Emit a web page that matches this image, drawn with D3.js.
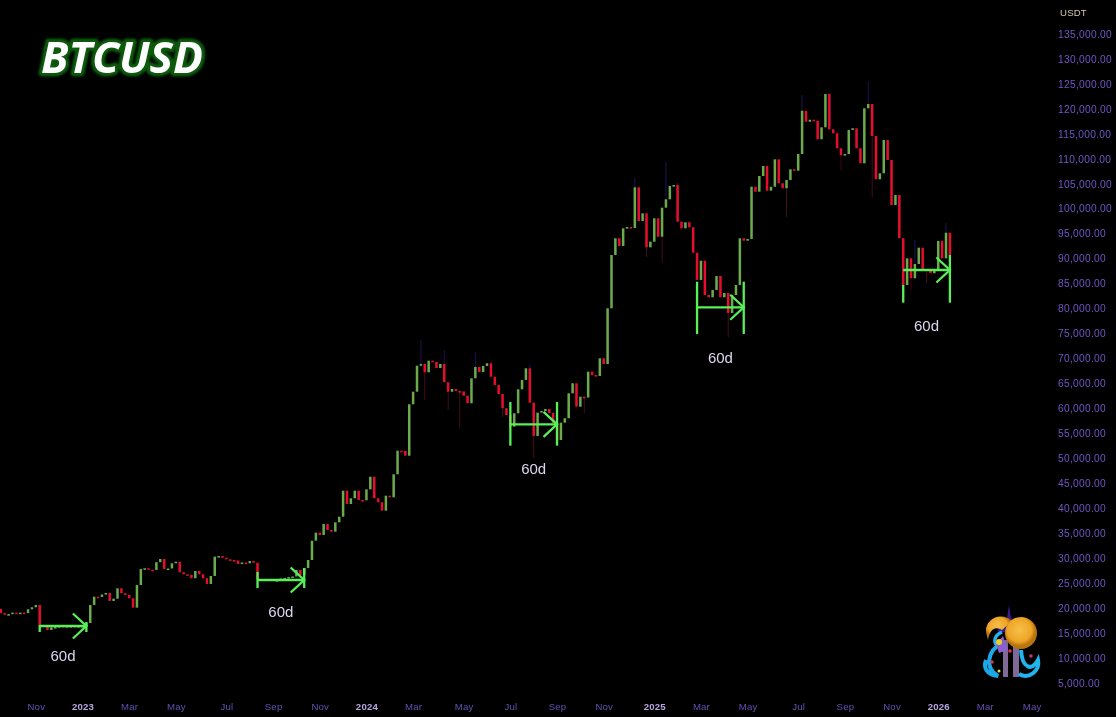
<!DOCTYPE html>
<html><head><meta charset="utf-8">
<script src="https://cdn.jsdelivr.net/npm/d3@7/dist/d3.min.js"></script>
<style>html,body{margin:0;padding:0;background:#000;overflow:hidden}svg{display:block}</style>
</head><body><svg id="c" width="1116" height="717"></svg>
<script>
// five-day candles; the first candle is index -10, each opens at the previous close
const firstIndex = -10;
const firstOpen = 19830;
const closes = [
19000,18800,18800,19100,19000,19100,19000,19770,20170,20630,
16620,16220,15620,16160,16220,16420,16220,16420,16420,16220,16420,16420,17020,20630,22290,22230,22730,23030,21430,21890,
23970,22970,22630,21970,20090,24630,27840,27980,27700,27640,29200,29840,27840,27940,28980,29300,27180,26780,26640,25980,
27440,26780,25980,24840,26440,30300,30440,30100,29780,29640,29540,28840,29140,28980,29440,29100,25780,25640,25840,25740,
25640,25640,25940,26040,26240,26340,27640,26640,28040,29640,33510,35110,34650,36850,35650,35310,37190,38310,43520,40860,
42000,43520,41660,41600,43800,46330,42000,41200,39520,42520,42200,46810,51540,51480,50530,60830,63350,68560,68900,67240,
69560,69300,68100,68900,65240,63350,63890,63490,63400,62550,61030,66040,68300,67300,68500,69040,66360,64690,62890,60030,
58680,56340,59030,63830,65700,68040,61150,54480,59150,59490,59890,59090,57080,53680,57140,58030,63030,65040,60350,62350,
62190,67360,66700,66500,70040,68900,80060,90730,94080,92540,96080,96340,96140,104290,97540,99080,92270,93400,98080,94400,
100210,101890,104550,104750,97400,96080,97280,96280,91190,85730,89590,82720,82260,83720,86530,82260,83120,79120,82720,84720,
94080,93600,93940,104410,103410,106560,108560,103610,104410,109900,105100,104100,105760,107900,107620,110960,119640,117430,117830,117640,
113910,116310,122980,115910,115110,112100,110770,110960,115770,116110,112100,109100,120120,120980,114570,105900,107100,113770,109760,100750,
102750,94080,84720,90070,86070,88930,92200,87730,87930,87070,87790,93540,90070,95200,90730
];
// faint wicks that are visible beyond the bodies
const wickIndex = [98,104,112,126,153,161,164,196,213,225,233];
const wickHigh  = [73710,71700,71300,68700,106160,109360,105160,122780,125380,93740,97140];
const lowWickIndex = [99,105,108,119,127,140,156,160,177,192,206,214,224,228];
const wickLow      = [61690,59690,56080,58280,50070,59080,90330,89130,74310,98340,107760,102350,83720,85130];
// 60-day ruler drawings
const toolStart     = [0,56,121,169,222];
const toolEnd       = [12,68,133,181,234];
const toolLeftHigh  = [16620,27240,61290,85380,84720];
const toolRightHigh = [17220,28040,61290,85380,90730];
const toolLow       = [15220,24030,52540,74910,81180];
const toolMid       = [16420,25630,56820,80260,87730];
const toolLabelPrice= [10210,19030,47670,69900,76310];
const toolLabel = "60d";
const priceTicks = d3.range(5000,135001,5000);
const timeTickIndex = [-1,11,23,35,48,60,72,84,96,109,121,133,145,158,170,182,195,207,219,231,243,255];
const timeTickLabel = ["Nov","2023","Mar","May","Jul","Sep","Nov","2024","Mar","May","Jul","Sep","Nov","2025","Mar","May","Jul","Sep","Nov","2026","Mar","May"];
const unit = "USDT", title = "BTCUSD";

const GREEN="#6cab4c", RED="#e6112e", TOOL="#58f058";
const svg=d3.select("#c");
const x=d3.scaleLinear().domain([0,234]).range([39.7,949.9]);
const y=d3.scaleLinear().domain([5000,135000]).range([683,34]);
const defs=svg.append("defs");
defs.append("filter").attr("id","soft").append("feGaussianBlur").attr("stdDeviation",0.4);
defs.append("filter").attr("id","soft2").append("feGaussianBlur").attr("stdDeviation",0.35);
const gl=defs.append("filter").attr("id","glow").attr("x","-10%").attr("y","-30%").attr("width","120%").attr("height","160%");
gl.append("feGaussianBlur").attr("stdDeviation",1.2);
const rg=defs.append("radialGradient").attr("id","cap").attr("cx","45%").attr("cy","40%");
rg.append("stop").attr("offset","0%").attr("stop-color","#f7c04a");
rg.append("stop").attr("offset","75%").attr("stop-color","#eea526");
rg.append("stop").attr("offset","100%").attr("stop-color","#b87410");

svg.append("rect").attr("width",1116).attr("height",717).attr("fill","#000");

// candles
const candles=closes.map((c,k)=>({i:firstIndex+k,o:k?closes[k-1]:firstOpen,c}));
const chart=svg.append("g").attr("filter","url(#soft)");
chart.append("g").selectAll("line.h").data(wickIndex).join("line")
  .attr("x1",d=>x(d)).attr("x2",d=>x(d))
  .attr("y1",(d,k)=>y(wickHigh[k])).attr("y2",d=>y(Math.max(closes[d-firstIndex],closes[d-firstIndex-1])))
  .attr("stroke","#1c1458").attr("stroke-width",1);
chart.append("g").selectAll("line.l").data(lowWickIndex).join("line")
  .attr("x1",d=>x(d)).attr("x2",d=>x(d))
  .attr("y1",(d,k)=>y(wickLow[k])).attr("y2",d=>y(Math.min(closes[d-firstIndex],closes[d-firstIndex-1])))
  .attr("stroke","#440d1c").attr("stroke-width",1);
chart.append("g").selectAll("rect").data(candles).join("rect")
  .attr("x",d=>x(d.i)-1.25).attr("width",2.5)
  .attr("y",d=>Math.min(y(d.o),y(d.c)))
  .attr("height",d=>Math.max(1.6,Math.abs(y(d.o)-y(d.c))))
  .attr("fill",d=>d.c>=d.o?GREEN:RED);

// rulers
const tools=chart.append("g").attr("stroke",TOOL).attr("stroke-width",2.3).attr("fill","none")
  .selectAll("g").data(toolStart).join("g");
tools.append("line").attr("x1",d=>x(d)).attr("x2",d=>x(d))
  .attr("y1",(d,k)=>y(toolLeftHigh[k])).attr("y2",(d,k)=>y(toolLow[k]));
tools.append("line").attr("x1",(d,k)=>x(toolEnd[k])).attr("x2",(d,k)=>x(toolEnd[k]))
  .attr("y1",(d,k)=>y(toolRightHigh[k])).attr("y2",(d,k)=>y(toolLow[k]));
tools.append("line").attr("x1",d=>x(d)).attr("x2",(d,k)=>x(toolEnd[k]))
  .attr("y1",(d,k)=>y(toolMid[k])).attr("y2",(d,k)=>y(toolMid[k]));
tools.append("path").attr("d",(d,k)=>{
  const ex=x(toolEnd[k]),my=y(toolMid[k]);
  return d3.line()([[ex-13.5,my-12.5],[ex,my],[ex-13.5,my+12.5]]);
});
svg.append("g").attr("filter","url(#soft2)").selectAll("text").data(toolStart).join("text")
  .attr("x",(d,k)=>x((d+toolEnd[k])/2)).attr("y",(d,k)=>y(toolLabelPrice[k]))
  .attr("text-anchor","middle").attr("dominant-baseline","middle")
  .attr("font-family","Liberation Sans, Arial, sans-serif").attr("font-size",15)
  .attr("fill","#ddd6ee").text(toolLabel);

// axes
const yAxis=d3.axisRight(y).tickValues(priceTicks).tickSize(0).tickPadding(0).tickFormat(d3.format(",.2f"));
const ya=svg.append("g").attr("transform","translate(1058,0)").attr("filter","url(#soft2)").call(yAxis);
ya.select(".domain").remove();
ya.selectAll("text").attr("font-family","Liberation Sans, Arial, sans-serif").attr("font-size",10.2)
  .attr("letter-spacing",0.3).attr("fill","#7156c6");
const xAxis=d3.axisBottom(x).tickValues(timeTickIndex).tickSize(0).tickPadding(0).tickFormat((d,k)=>timeTickLabel[k]);
const xa=svg.append("g").attr("transform","translate(0,703)").attr("filter","url(#soft2)").call(xAxis);
xa.select(".domain").remove();
xa.selectAll("text").attr("font-family","Liberation Sans, Arial, sans-serif").attr("font-size",9.6)
  .attr("letter-spacing",0.2)
  .attr("fill",(d,k)=>/^\d/.test(timeTickLabel[k])?"#b9a8e0":"#654fb4")
  .attr("font-weight",(d,k)=>/^\d/.test(timeTickLabel[k])?"700":"400");
svg.append("text").attr("x",1060).attr("y",16).attr("font-family","Liberation Sans, Arial, sans-serif")
  .attr("font-size",9.6).attr("letter-spacing",0.2).attr("fill","#d2c4b0").attr("filter","url(#soft2)").text(unit);

// title
const tAttrs=s=>s.attr("x",41).attr("y",73).attr("font-family","Open Sans, Noto Sans, sans-serif")
  .attr("font-size",43).attr("font-weight",700).attr("font-style","italic")
  .attr("textLength",162).attr("lengthAdjust","spacingAndGlyphs");
svg.append("text").call(tAttrs).attr("fill","#0a5a0a").attr("stroke","#0a5a0a").attr("stroke-width",7)
  .attr("stroke-linejoin","round").attr("filter","url(#glow)").text(title);
svg.append("text").call(tAttrs).attr("fill","#fff").attr("filter","url(#soft2)").text(title);

// logo
const logo=svg.append("g").attr("filter","url(#soft2)");
logo.append("path").attr("d","M995 616 L1001 626 L1007 618 L1009 605 L1011 618 L1017 626 L1023 616 L1021 632 L998 632Z").attr("fill","#3a1c90");
logo.append("rect").attr("x",1003).attr("y",640).attr("width",5).attr("height",37).attr("fill","#7d6a96");
logo.append("rect").attr("x",1013).attr("y",640).attr("width",6).attr("height",37).attr("fill","#7d6a96");
logo.append("path").attr("d","M1001 644 C988 650 984 668 998 676 C987 675 983 668 986 660").attr("fill","none").attr("stroke","#1fa8e8").attr("stroke-width",4);
logo.append("path").attr("d","M1021 650 C1022 668 1032 672 1038 660 C1040 670 1030 680 1019 674").attr("fill","none").attr("stroke","#22b4ee").attr("stroke-width",4);
logo.append("path").attr("d","M1002 632 C992 636 993 648 1002 646").attr("fill","none").attr("stroke","#2ab0ee").attr("stroke-width",3.5);
logo.append("path").attr("d","M986 632 A15 14 0 0 1 1012 621 L1002 630 C996 626 990 628 988 640 Z").attr("fill","url(#cap)");
logo.append("circle").attr("cx",1021).attr("cy",633).attr("r",16).attr("fill","url(#cap)");
logo.append("path").attr("d","M996 644 L1003 636 L1008 650 L999 653Z").attr("fill","#8a60d0");
logo.append("circle").attr("cx",999).attr("cy",642).attr("r",3).attr("fill","#e8d020");
logo.append("circle").attr("cx",1010).attr("cy",651).attr("r",1.8).attr("fill","#e03050");
logo.append("circle").attr("cx",992).attr("cy",662).attr("r",1.8).attr("fill","#e03050");
logo.append("circle").attr("cx",1031).attr("cy",656).attr("r",1.8).attr("fill","#d03070");
logo.append("circle").attr("cx",999).attr("cy",671).attr("r",1.5).attr("fill","#e8e040");
</script></body></html>
